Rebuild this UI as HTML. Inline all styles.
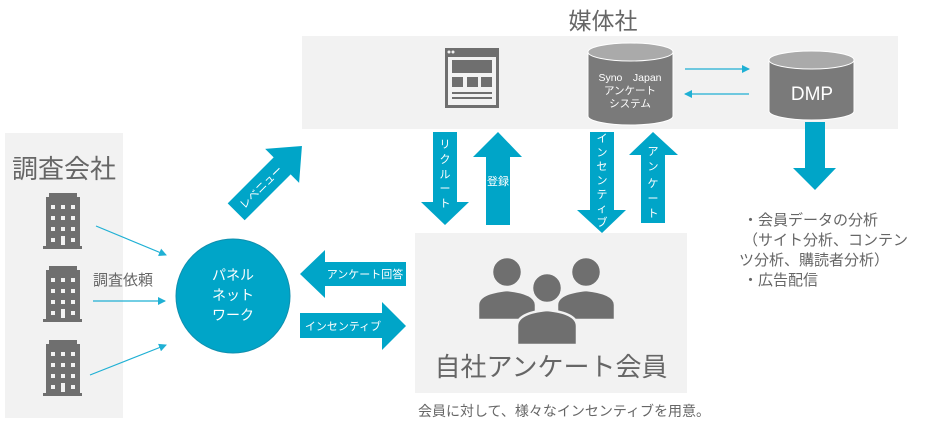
<!DOCTYPE html>
<html><head><meta charset="utf-8"><style>
html,body{margin:0;padding:0;background:#fff;}
svg{display:block;font-family:"Liberation Sans","Noto Sans CJK JP",sans-serif;}
</style></head><body>
<svg width="940" height="436" viewBox="0 0 940 436" xmlns="http://www.w3.org/2000/svg">
<defs>
<g id="bld">
<path d="M49 193 H77 V197 H80 V246 H82 V249 H43 V246 H46 V197 H49 Z" fill="#6f6f6f"/>
<g fill="#f2f2f2">
<rect x="51" y="205" width="4" height="4"/><rect x="61" y="205" width="4" height="4"/><rect x="71" y="205" width="4" height="4"/>
<rect x="51" y="216" width="4" height="4"/><rect x="61" y="216" width="4" height="4"/><rect x="71" y="216" width="4" height="4"/>
<rect x="51" y="227" width="4" height="4"/><rect x="61" y="227" width="4" height="4"/><rect x="71" y="227" width="4" height="4"/>
<rect x="51" y="238" width="4" height="4"/><rect x="61" y="236" width="4" height="9"/><rect x="71" y="238" width="4" height="4"/>
</g>
</g>
<marker id="ah" markerWidth="8" markerHeight="8" refX="7" refY="4" orient="auto" markerUnits="userSpaceOnUse"><path d="M0 0 L8 4 L0 8 Z" fill="#1fb0d4"/></marker>
</defs>

<rect x="302" y="36" width="596" height="93" fill="#f2f2f2"/>
<rect x="5" y="133" width="118" height="285" fill="#f2f2f2"/>
<rect x="415" y="233" width="272" height="160" fill="#f2f2f2"/>

<text x="603" y="29" font-size="23" fill="#666" text-anchor="middle">媒体社</text>
<text x="64" y="178" font-size="26" fill="#666" text-anchor="middle">調査会社</text>

<use href="#bld"/>
<use href="#bld" transform="translate(0,73)"/>
<use href="#bld" transform="translate(0,147)"/>

<g stroke="#1fb0d4" stroke-width="1.2" marker-end="url(#ah)">
<line x1="96" y1="226" x2="166" y2="255"/>
<line x1="93" y1="301" x2="165" y2="301"/>
<line x1="90" y1="375" x2="166" y2="345"/>
<line x1="685" y1="69" x2="749" y2="69"/>
<line x1="749" y1="94" x2="685" y2="94"/>
</g>
<text x="93" y="285" font-size="15" fill="#666">調査依頼</text>

<circle cx="233" cy="296" r="57" fill="#00a5c8" stroke="#0f8fae" stroke-width="1"/>
<g font-size="14" fill="#fff" text-anchor="middle">
<text x="233" y="280">パネル</text>
<text x="233" y="300">ネット</text>
<text x="233" y="320">ワーク</text>
</g>

<g transform="translate(268,180) rotate(-45)">
<polygon points="-45,-12 20,-12 20,-24 48,0 20,24 20,12 -45,12" fill="#00a5c8"/>
<text x="-10" y="4" font-size="11" fill="#fff" text-anchor="middle">レベニュー</text>
</g>

<polygon points="300,274 325,250 325,262 406,262 406,286 325,286 325,298" fill="#00a5c8"/>
<text x="365" y="278" font-size="11" fill="#fff" text-anchor="middle">アンケート回答</text>
<polygon points="300,313 382,313 382,302 406,326 382,350 382,338 300,338" fill="#00a5c8"/>
<text x="343" y="330" font-size="11" fill="#fff" text-anchor="middle">インセンティブ</text>

<polygon points="433,132 457,132 457,202 469,202 445,225 421,202 433,202" fill="#00a5c8"/>
<g font-size="11" fill="#fff" text-anchor="middle">
<text x="445" y="148">リ</text><text x="445" y="163">ク</text><text x="445" y="178">ル</text><text x="445" y="192">ー</text><text x="445" y="207">ト</text>
</g>
<polygon points="498,132 522,157 510,157 510,225 486,225 486,157 473,157" fill="#00a5c8"/>
<text x="498" y="185" font-size="11" fill="#fff" text-anchor="middle">登録</text>

<polygon points="590,132 614,132 614,210 626,210 602,233 577,210 590,210" fill="#00a5c8"/>
<g font-size="11" fill="#fff" text-anchor="middle">
<text x="602" y="142">イ</text><text x="602" y="156">ン</text><text x="602" y="170">セ</text><text x="602" y="184">ン</text><text x="602" y="198">テ</text><text x="602" y="212">ィ</text><text x="602" y="226">ブ</text>
</g>
<polygon points="653,132 678,155 665,155 665,223 641,223 641,155 629,155" fill="#00a5c8"/>
<g font-size="11" fill="#fff" text-anchor="middle">
<text x="653" y="155">ア</text><text x="653" y="170">ン</text><text x="653" y="187">ケ</text><text x="653" y="202">ー</text><text x="653" y="217">ト</text>
</g>

<polygon points="805,122 825,122 825,168 836,168 815,190 793,168 805,168" fill="#00a5c8"/>

<rect x="445" y="48" width="54" height="60" fill="#6f6f6f"/>
<circle cx="449" cy="52" r="1.5" fill="#f2f2f2"/><circle cx="453" cy="52" r="1.5" fill="#f2f2f2"/>
<rect x="448" y="57" width="48" height="48" fill="#f2f2f2"/>
<rect x="452" y="60" width="40" height="13" fill="#6f6f6f"/>
<rect x="452" y="77" width="11" height="10" fill="#6f6f6f"/>
<rect x="467" y="77" width="11" height="10" fill="#6f6f6f"/>
<rect x="481" y="77" width="11" height="10" fill="#6f6f6f"/>
<rect x="452" y="92" width="40" height="2" fill="#6f6f6f"/>
<rect x="452" y="97" width="40" height="2" fill="#6f6f6f"/>

<path d="M588 52 V116 A42.5 9 0 0 0 673 116 V52 Z" fill="#7a7a7a" stroke="#fff" stroke-width="1"/>
<ellipse cx="630.5" cy="52" rx="42.5" ry="9" fill="#aaaaaa" stroke="#fff" stroke-width="1"/>
<g font-size="10.5" fill="#fff" text-anchor="middle">
<text x="630" y="81">Syno　Japan</text>
<text x="630" y="94">アンケート</text>
<text x="630" y="107">システム</text>
</g>
<path d="M769 60 V111 A42.5 9 0 0 0 854 111 V60 Z" fill="#7a7a7a" stroke="#fff" stroke-width="1"/>
<ellipse cx="811.5" cy="60" rx="42.5" ry="9" fill="#aaaaaa" stroke="#fff" stroke-width="1"/>
<text x="812" y="100" font-size="19" fill="#fff" text-anchor="middle">DMP</text>

<g fill="#6f6f6f" stroke="#f2f2f2" stroke-width="2.5">
<circle cx="507" cy="272" r="15"/>
<path d="M478 320 V305 Q478 293 507 290 Q536 293 536 305 V320 Z"/>
<circle cx="586" cy="272" r="15"/>
<path d="M557 320 V305 Q557 293 586 290 Q615 293 615 305 V320 Z"/>
<circle cx="547" cy="288" r="15"/>
<path d="M517 345 V326 Q517 313 547 310 Q577 313 577 326 V345 Z"/>
</g>
<text x="551" y="376" font-size="26" fill="#666" text-anchor="middle">自社アンケート会員</text>
<text x="564" y="416" font-size="14" fill="#666" text-anchor="middle">会員に対して、様々なインセンティブを用意。</text>

<g font-size="15" fill="#666">
<text x="743" y="225">・会員データの分析</text>
<text x="743" y="245">（サイト分析、コンテン</text>
<text x="739" y="265">ツ分析、購読者分析）</text>
<text x="743" y="285">・広告配信</text>
</g>
</svg>
</body></html>
